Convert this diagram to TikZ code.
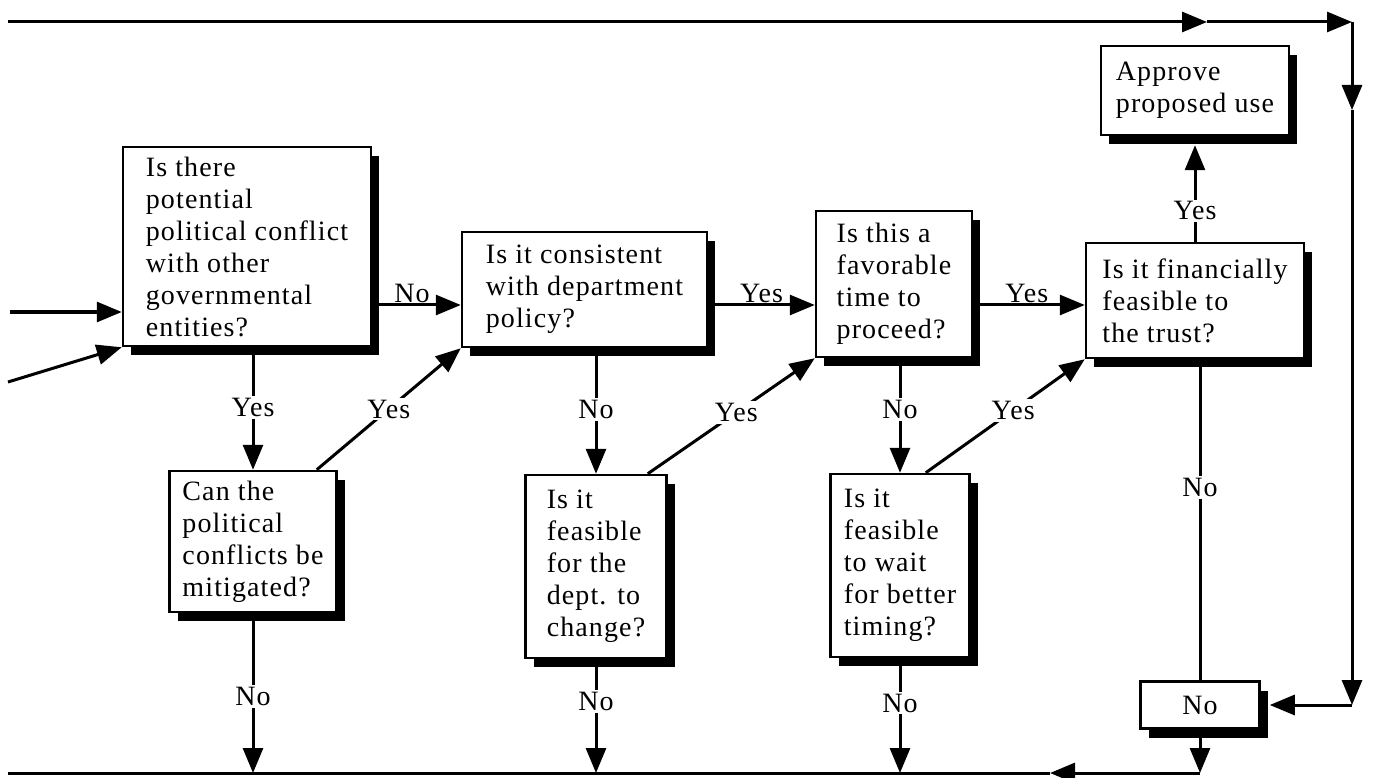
\documentclass[tikz,border=0pt]{standalone}
\usepackage{fontspec}
\setmainfont{Liberation Serif}[LetterSpace=4]
\usetikzlibrary{positioning, arrows.meta, calc, shadows}

\begin{document}
\begin{tikzpicture}[
    x=1pt, y=-1pt,
    box/.style={rectangle, draw, line width=2.5pt, fill=white, align=left, inner sep=0pt,
        font=\fontsize{28}{32}\selectfont,
        drop shadow={shadow xshift=8pt, shadow yshift=-9pt, fill=black, opacity=1}},
    arrow/.style={-{Triangle[length=25pt, width=20pt]}, line width=3pt},
    line/.style={line width=3pt},
    answer/.style={font=\fontsize{28}{32}\selectfont, inner sep=1pt},
    answergap/.style={answer, fill=white, inner sep=2pt},
]

\fill[white] (0,0) rectangle (1377,778);
\useasboundingbox (0,0) rectangle (1377,778);

% ============================================
% QUESTIONS - main row
% ============================================
\node[box, minimum width=248pt, minimum height=199pt] (conflict) at (247,246.5) {
    Is there\\
    potential\\
    political conflict\\
    with other\\
    governmental\\
    entities?
};

\node[box, minimum width=245pt, minimum height=115pt] (policy) at (584.5,289.5) {
    Is it consistent\\
    with department\\
    policy?
};

\node[box, minimum width=156pt, minimum height=146pt] (timing) at (894,284) {
    Is this a\\
    favorable\\
    time to\\
    proceed?
};

\node[box, minimum width=218pt, minimum height=115pt] (finance) at (1195,300.5) {
    Is it financially\\
    feasible to\\
    the trust?
};

\node[box, minimum width=188pt, minimum height=89pt] (approve) at (1195,90.5) {
    Approve\\
    proposed use
};

% ============================================
% QUESTIONS - second chance
% ============================================
\node[box, minimum width=167pt, minimum height=141pt] (mitigate) at (253,541.5) {
    Can the\\
    political\\
    conflicts be\\
    mitigated?
};

\node[box, minimum width=141pt, minimum height=183pt] (change) at (596,566.5) {
    Is it\\
    feasible\\
    for the\\
    dept. to\\
    change?
};

\node[box, minimum width=139pt, minimum height=183pt] (wait) at (900,565.5) {
    Is it\\
    feasible\\
    to wait\\
    for better\\
    timing?
};

\node[box, align=center, minimum width=119pt, minimum height=47pt] (reject) at (1200,705) {No};

% ============================================
% LOOP COORDINATES
% ============================================
\coordinate (topL) at (8,22);
\coordinate (topM) at (1207,22);
\coordinate (topR) at (1352,22);
\coordinate (sideM) at (1352,110);
\coordinate (sideB) at (1352,705);
\coordinate (botR) at (1200,773);
\coordinate (botM) at (1050,773);
\coordinate (botL) at (8,773);
\coordinate (in1) at (10,312);
\coordinate (in2) at (8,382);
\coordinate (row) at (0,305);

% ============================================
% ARROWS - outer loop
% ============================================
\draw[arrow] (topL) -- (topM);
\draw[arrow] (topM) -- (topR);
\draw[arrow] (topR) -- (sideM);
\draw[arrow] (sideM) -- (sideB);
\draw[arrow] (sideB) -- ([xshift=9pt]reject.east);
\draw[arrow] (reject.south) -- (botR);
\draw[arrow] (botR) -- (botM);
\draw[line] (botM) -- (botL);

% ============================================
% ARROWS - inputs
% ============================================
\draw[arrow] (in1) -- (conflict.west |- in1);
\draw[arrow] (in2) -- (conflict.south west);

% ============================================
% ARROWS - main row
% ============================================
\draw[arrow] (conflict.east |- row) -- node[answer, above, pos=0.45] {No} (policy.west |- row);
\draw[arrow] (policy.east |- row) -- node[answer, above, pos=0.5] {Yes} (timing.west |- row);
\draw[arrow] (timing.east |- row) -- node[answer, above, pos=0.48] {Yes} (finance.west |- row);
\draw[arrow] (finance.north) -- node[answergap, pos=0.32] {Yes} ([yshift=-9pt]approve.south);

% ============================================
% ARROWS - down to second chance
% ============================================
\draw[arrow] (conflict.south -| mitigate.north) -- node[answergap, pos=0.49] {Yes} (mitigate.north);
\draw[arrow] (policy.south -| change.north) -- node[answergap, pos=0.49] {No} (change.north);
\draw[arrow] (timing.south -| wait.north) -- node[answergap, pos=0.45] {No} (wait.north);
\draw[line] (finance.south -| reject.north) -- node[answergap, pos=0.4] {No} (reject.north);

% ============================================
% ARROWS - back up (Yes)
% ============================================
\draw[arrow] ([xshift=-21pt]mitigate.north east) -- node[answergap, pos=0.5] {Yes} (policy.south west);
\draw[arrow] ([xshift=-20pt]change.north east) -- node[answergap, pos=0.53] {Yes} (timing.south west);
\draw[arrow] ([xshift=-45pt]wait.north east) -- node[answergap, pos=0.55] {Yes} (finance.south west);

% ============================================
% ARROWS - rejected (No)
% ============================================
\draw[arrow] (mitigate.south) -- node[answergap, pos=0.52] {No} (mitigate.south |- botL);
\draw[arrow] (change.south) -- node[answergap, pos=0.37] {No} (change.south |- botL);
\draw[arrow] (wait.south) -- node[answergap, pos=0.39] {No} (wait.south |- botL);

\end{tikzpicture}
\end{document}
